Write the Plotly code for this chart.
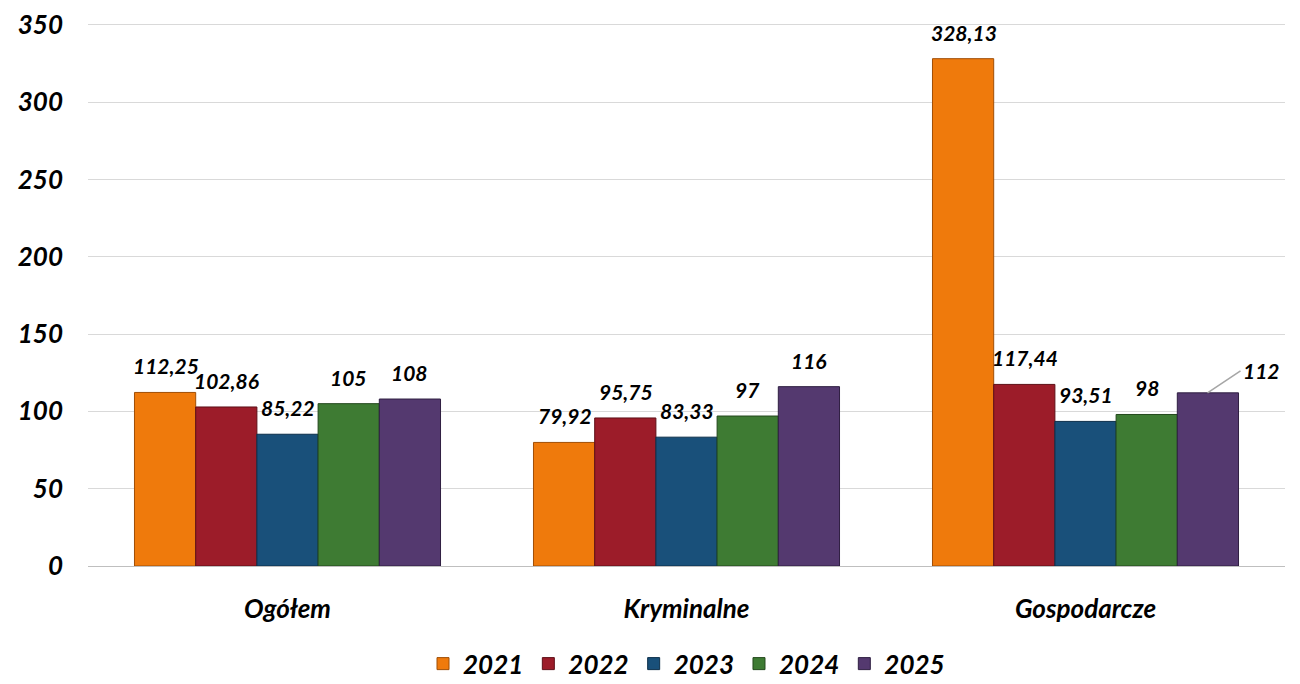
import plotly.graph_objects as go

categories = ["Ogółem", "Kryminalne", "Gospodarcze"]
years = ["2021", "2022", "2023", "2024", "2025"]
values = {
    "2021": [112.25, 79.92, 328.13],
    "2022": [102.86, 95.75, 117.44],
    "2023": [85.22, 83.33, 93.51],
    "2024": [105, 97, 98],
    "2025": [108, 116, 112],
}
y_ticks = [0, 50, 100, 150, 200, 250, 300, 350]
colors = ["#EF7A0C", "#9C1C29", "#19507A", "#3E7B33", "#54396F"]
line_colors = ["#A04E05", "#5E0F17", "#0C2F4A", "#23481C", "#2F1F42"]

FONT = "Lato"
BAR_PX = 61

def fmt(v):
    s = f"{v:.2f}".rstrip("0").rstrip(".")
    return s.replace(".", ",")

def bi(s):
    return f"<b><i>{s}</i></b>"

fig = go.Figure()
for i, y in enumerate(years):
    fig.add_trace(go.Bar(
        name=bi(y), x=categories, y=values[y],
        marker=dict(color=colors[i], line=dict(color=line_colors[i], width=1)),
    ))
    for j, c in enumerate(categories):
        v = values[y][j]
        if y == "2025" and c == "Gospodarcze":
            fig.add_annotation(
                x=c, y=v, xref="x", yref="y", xshift=(i - 2) * BAR_PX,
                text=bi(fmt(v)), showarrow=True, arrowhead=0,
                arrowcolor="#a6a6a6", arrowwidth=1.5, ax=33, ay=-22,
                xanchor="left", font=dict(family=FONT, size=21, color="black"),
            )
        else:
            fig.add_annotation(
                x=c, y=v, xref="x", yref="y", xshift=(i - 2) * BAR_PX, yshift=12,
                text=bi(fmt(v)), showarrow=False, yanchor="bottom",
                font=dict(family=FONT, size=21, color="black"),
            )

fig.update_layout(
    width=1292, height=676,
    margin=dict(l=80, r=15, t=15, b=118, autoexpand=False),
    paper_bgcolor="white", plot_bgcolor="white",
    barmode="group", bargap=0.233, bargroupgap=0,
    font=dict(family=FONT, size=26, color="black"),
    showlegend=True,
    legend=dict(orientation="h", x=0.5, xanchor="center",
                yref="container", y=0.03, yanchor="middle",
                font=dict(family=FONT, size=26, color="black"),
                traceorder="normal"),
    yaxis=dict(range=[0, 351.2], tickmode="array", tickvals=y_ticks,
               ticktext=[bi(t) for t in y_ticks], ticklabeloverflow="allow",
               showgrid=True, gridcolor="#d9d9d9",
               gridwidth=1, zeroline=True, zerolinecolor="#bfbfbf", zerolinewidth=1,
               ticks="", tickfont=dict(family=FONT, size=26), ticklabelstandoff=24,
               automargin=False),
    xaxis=dict(showline=False, ticks="", tickfont=dict(family=FONT, size=26),
               automargin=False, ticklabelstandoff=25,
               tickvals=categories, ticktext=[bi(c) for c in categories]),
)

fig.write_html("out.html")
